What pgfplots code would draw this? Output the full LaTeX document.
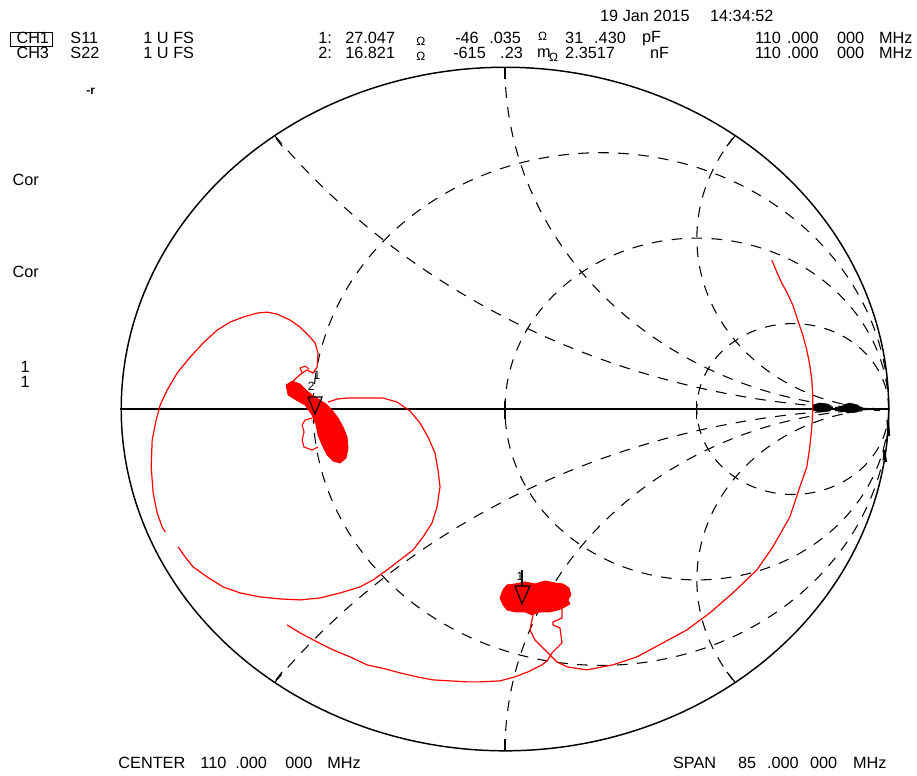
\documentclass[border=0pt]{standalone}
\usepackage{pgfplots}
\pgfplotsset{compat=1.18}
\usepackage{fontspec}
\setmainfont{Liberation Sans}
\newcommand\T{\fontsize{12.2}{14}\selectfont}
\newcommand\Ts{\fontsize{9}{10}\selectfont}
\begin{document}
\T
\begin{tikzpicture}[font=\T,
  sgrid/.style={black, line width=0.8pt, dash pattern=on 8pt off 7pt},
  tx/.style={anchor=west, inner sep=0pt, font=\T},
  ts/.style={anchor=west, inner sep=0pt, font=\Ts}]
\begin{axis}[
  width=687.75pt, height=581.25pt, scale only axis,
  xmin=0, xmax=917, ymin=0, ymax=775, y dir=reverse,
  hide axis, clip=false,
]
% white background
\addplot[draw=white, fill=white] coordinates {(0,0) (917,0) (917,775) (0,775) (0,0)};
% ---- Smith chart grid (Gamma -> pixel: X=505+384*Gx, Y=409-342*Gy)
% resistance circles r=1/3, 1, 3
\addplot[sgrid, domain=0:360, samples=220] ({505+384*(0.25+0.75*cos(x))},{409-342*(0.75*sin(x))});
\addplot[sgrid, domain=0:360, samples=180] ({505+384*(0.5+0.5*cos(x))},{409-342*(0.5*sin(x))});
\addplot[sgrid, domain=0:360, samples=120] ({505+384*(0.75+0.25*cos(x))},{409-342*(0.25*sin(x))});
% reactance arcs x=+-0.5, +-1, +-2
\addplot[sgrid, domain=216.87:270, samples=120] ({505+384*(1+2*cos(x))},{409-342*(2+2*sin(x))});
\addplot[sgrid, domain=216.87:270, samples=120] ({505+384*(1+2*cos(x))},{409+342*(2+2*sin(x))});
\addplot[sgrid, domain=180:270, samples=120] ({505+384*(1+cos(x))},{409-342*(1+sin(x))});
\addplot[sgrid, domain=180:270, samples=120] ({505+384*(1+cos(x))},{409+342*(1+sin(x))});
\addplot[sgrid, domain=143.13:270, samples=120] ({505+384*(1+0.5*cos(x))},{409-342*(0.5+0.5*sin(x))});
\addplot[sgrid, domain=143.13:270, samples=120] ({505+384*(1+0.5*cos(x))},{409+342*(0.5+0.5*sin(x))});
% outer boundary and real axis
\addplot[black, line width=1.1pt, domain=0:360, samples=300] ({505+384*cos(x)},{409-342*sin(x)});
\addplot[black, line width=1.1pt] coordinates {(120,409) (889,409)};
% ticks
\addplot[black, line width=0.9pt] coordinates {(505,67) (505,79)};
\addplot[black, line width=0.9pt] coordinates {(505,751) (505,739)};
\addplot[black, line width=0.9pt] coordinates {(276,138) (282,146)};
\addplot[black, line width=0.9pt] coordinates {(276,680) (282,672)};
\addplot[black, line width=0.9pt] coordinates {(733,138) (727,146)};
\addplot[black, line width=0.9pt] coordinates {(733,680) (727,672)};
\addplot[black, line width=0.9pt] coordinates {(505,401) (505,419)};
\addplot[black, line width=0.9pt] coordinates {(697,401) (697,419)};
% black blobs near the right
\addplot[black, fill=black] coordinates {(813,405) (820,403) (828,404) (833,407) (830,411) (820,412) (813,410) (813,405)};
\addplot[black, fill=black] coordinates {(843,405) (850,403) (858,405) (861,408) (857,412) (848,413) (843,410) (843,405)};
\addplot[black, line width=1.5pt] coordinates {(874,410) (880,410)};
\addplot[black, line width=2pt] coordinates {(888,420) (889,436)};
\addplot[black, line width=2pt] coordinates {(884,450) (886,462)};

% ---- red traces
\addplot[red, line width=0.9pt] coordinates {
(772,260) (777,272) (782,283) (787,292) (793,305) (798,320) (803,335) (807,350)
(810,365) (812,380) (813,395) (813,410) (812,427) (810,447) (807,467) (800,487)
(790,517) (773,547) (757,570) (733,593) (710,613) (687,630) (663,643) (637,657)
(613,665) (587,670) (567,667) (557,662) (550,655) (543,648) (535,640) (530,630)
(532,620) (533,615)};
\addplot[red, line width=0.9pt] coordinates {
(287,625) (300,633) (315,641) (333,650) (350,657) (367,665) (385,669) (400,673)
(417,677) (433,680) (450,681) (467,682) (480,682) (500,681) (515,677) (528,672)
(542,665) (548,660) (552,653) (558,647) (562,643) (561,635) (560,628) (553,625)
(553,622) (558,620) (562,618) (562,607)};
% cluster 2
\addplot[red, fill=red, line width=0.6pt] coordinates {
(503,590) (507,585) (515,584) (525,582) (535,584) (545,581) (555,583) (563,584)
(569,588) (571,595) (568,600) (570,604) (565,607) (558,610) (550,612) (540,612)
(532,615) (525,612) (515,612) (507,610) (503,605) (500,598) (503,590)};
% left loops
\addplot[red, line width=0.9pt] coordinates {
(290,385) (296,378) (302,373) (307,370) (313,373) (317,367) (318,353) (315,343)
(310,337) (300,327) (290,320) (277,314) (267,312) (257,313) (243,317) (230,322)
(217,330) (203,343) (190,357) (177,373) (167,390) (160,405) (156,420) (152,440)
(151,467) (153,493) (157,513) (162,527) (165,532)};
\addplot[red, line width=0.9pt] coordinates {
(328,402) (337,399) (347,398) (363,398) (383,398) (397,402) (410,411) (420,423)
(428,437) (435,453) (438,470) (440,487) (437,507) (432,523) (423,537) (413,550)
(400,560) (387,570) (373,580) (360,587) (340,593) (320,598) (300,600) (280,599)
(260,597) (240,593) (223,587) (207,577) (193,567) (185,557) (178,547)};
% cluster 1
\addplot[red, fill=red, line width=0.6pt] coordinates {
(286,385) (292,381) (300,384) (306,390) (312,395) (320,400) (326,404) (332,410)
(338,418) (343,427) (347,437) (348,448) (346,458) (340,463) (333,461) (327,455)
(322,445) (318,435) (316,425) (312,415) (305,405) (296,400) (288,395) (286,385)};
\addplot[red, line width=0.8pt] coordinates {
(312,418) (305,420) (302,425) (304,432) (302,440) (304,447) (312,450) (318,447)};
\addplot[red, line width=0.8pt] coordinates {(302,373) (300,368) (305,366) (309,369)};

% ---- markers
\addplot[black, line width=0.9pt] coordinates {(515,586) (530,586) (522,604) (515,586)};
\addplot[black, line width=0.9pt] coordinates {(522,586) (522,570)};
\addplot[black, line width=0.9pt] coordinates {(308,397) (322,397) (315,414) (308,397)};
\node[inner sep=0pt, font=\Ts] at (axis cs:520,576) {1};
\node[inner sep=0pt, font=\Ts] at (axis cs:311,386) {2};
\node[inner sep=0pt, font=\Ts] at (axis cs:317,375) {1};

% ---- CH1 box
\addplot[black, line width=0.8pt] coordinates {(10,32) (52,32) (52,46) (10,46) (10,32)};

% ---- texts
\node[tx] at (axis cs:600,16) {19 Jan 2015};
\node[tx] at (axis cs:710,16) {14:34:52};
% row 1
\node[tx] at (axis cs:16,38) {CH1};
\node[tx] at (axis cs:70,38) {S11};
\node[tx] at (axis cs:143,38) {1 U FS};
\node[tx] at (axis cs:318,38) {1:};
\node[tx] at (axis cs:345,38) {27.047};
\node[ts] at (axis cs:416,41) {Ω};
\node[tx] at (axis cs:455,38) {-46};
\node[tx] at (axis cs:489,38) {.035};
\node[ts] at (axis cs:538,36) {Ω};
\node[tx] at (axis cs:565,38) {31};
\node[tx] at (axis cs:594,38) {.430};
\node[tx] at (axis cs:642,38) {pF};
\node[tx] at (axis cs:755,38) {110};
\node[tx] at (axis cs:787,38) {.000};
\node[tx] at (axis cs:837,38) {000};
\node[tx] at (axis cs:879,38) {MHz};
% row 2
\node[tx] at (axis cs:16,53) {CH3};
\node[tx] at (axis cs:70,53) {S22};
\node[tx] at (axis cs:143,53) {1 U FS};
\node[tx] at (axis cs:318,53) {2:};
\node[tx] at (axis cs:345,53) {16.821};
\node[ts] at (axis cs:416,56) {Ω};
\node[tx] at (axis cs:453,53) {-615};
\node[tx] at (axis cs:500,53) {.23};
\node[tx] at (axis cs:537,53) {m};
\node[ts] at (axis cs:549,57) {Ω};
\node[tx] at (axis cs:565,53) {2.3517};
\node[tx] at (axis cs:650,53) {nF};
\node[tx] at (axis cs:755,53) {110};
\node[tx] at (axis cs:787,53) {.000};
\node[tx] at (axis cs:837,53) {000};
\node[tx] at (axis cs:879,53) {MHz};
% left
\node[anchor=west, inner sep=0pt, font=\fontsize{9}{10}\selectfont\bfseries] at (axis cs:86,91) {-r};
\node[tx] at (axis cs:12,180) {Cor};
\node[tx] at (axis cs:12,272) {Cor};
\node[tx] at (axis cs:20,367) {1};
\node[tx] at (axis cs:20,382) {1};
% bottom
\node[tx] at (axis cs:118,763) {CENTER};
\node[tx] at (axis cs:200,763) {110};
\node[tx] at (axis cs:235,763) {.000};
\node[tx] at (axis cs:285,763) {000};
\node[tx] at (axis cs:327,763) {MHz};
\node[tx] at (axis cs:673,763) {SPAN};
\node[tx] at (axis cs:738,763) {85};
\node[tx] at (axis cs:767,763) {.000};
\node[tx] at (axis cs:810,763) {000};
\node[tx] at (axis cs:853,763) {MHz};
\end{axis}
\end{tikzpicture}
\end{document}
